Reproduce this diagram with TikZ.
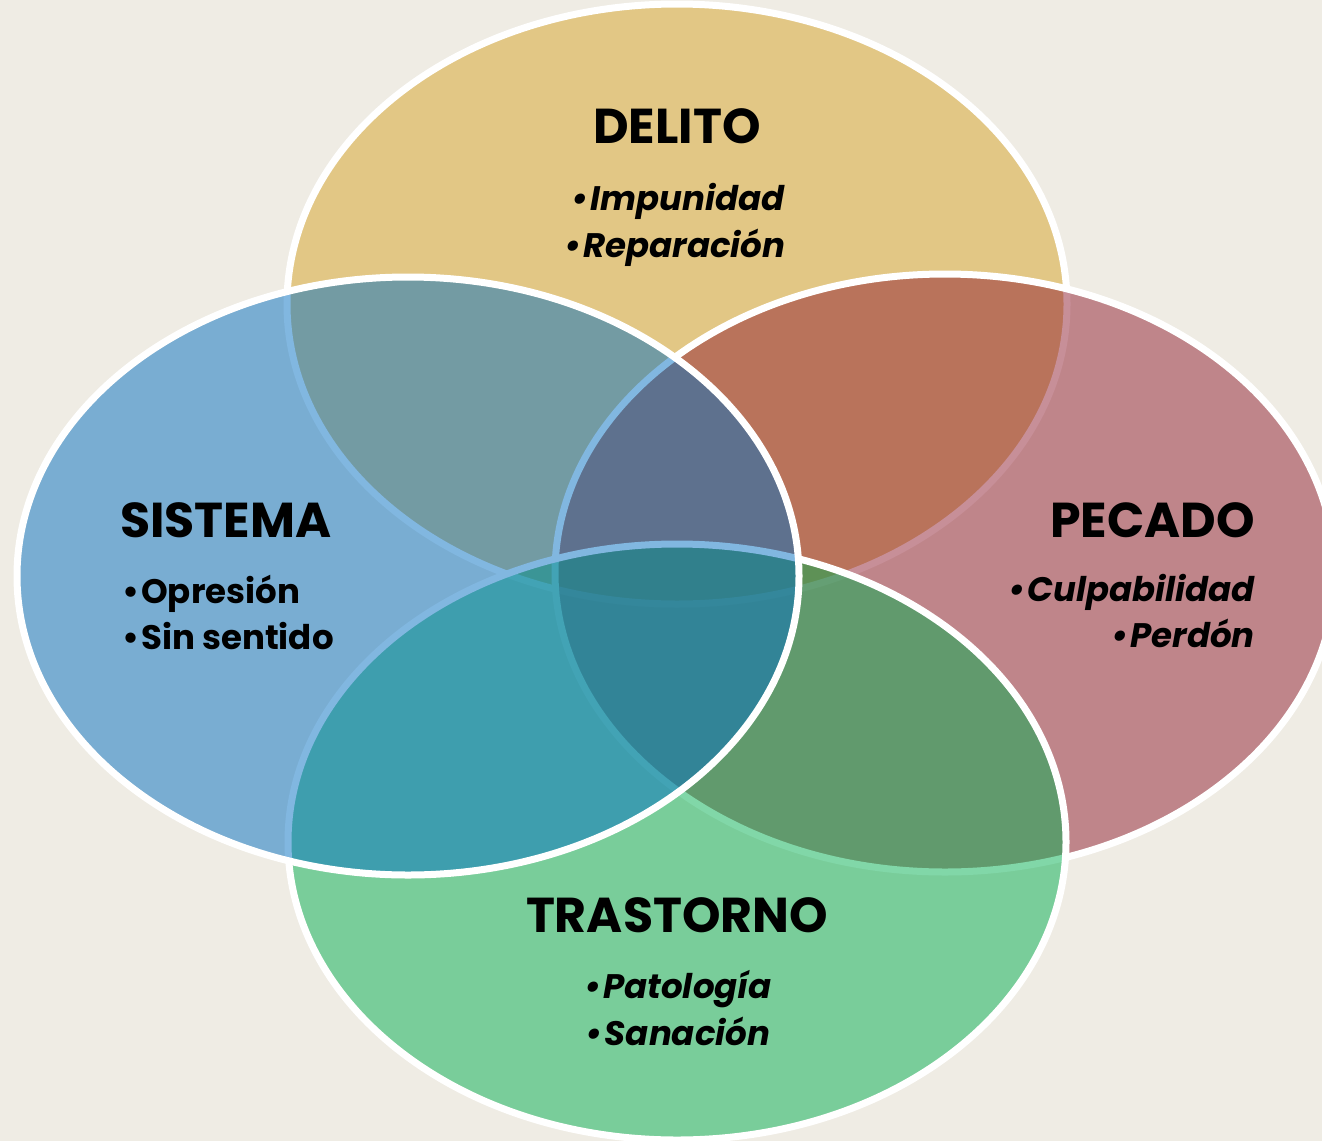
\documentclass[tikz,border=0pt]{standalone}
\usepackage{fontspec}
\setmainfont{Poppins}
\definecolor{bgc}{HTML}{EFECE4}
\definecolor{delc}{HTML}{E2C785}
\definecolor{sisc}{HTML}{0570C2}
\definecolor{pecc}{HTML}{912032}
\definecolor{trac}{HTML}{05B052}
\tikzset{
  blob/.style={draw=white, line width=7pt},
  ttl/.style={font=\fontsize{49}{58}\selectfont\bfseries, inner sep=0pt},
  itm/.style={font=\fontsize{34}{40}\selectfont\bfseries\itshape, inner sep=0pt},
  itmup/.style={font=\fontsize{34}{40}\selectfont\bfseries, inner sep=0pt},
}
\begin{document}
\begin{tikzpicture}[x=1pt,y=-1pt]
\useasboundingbox (0,0) rectangle (1322,1141);
\fill[bgc] (0,0) rectangle (1322,1141);
\clip (0,0) rectangle (1322,1141);
% ellipses, bottom to top
\path[blob, fill=delc] (677,304) ellipse [x radius=390pt, y radius=300pt];
\path[blob, fill=pecc, fill opacity=0.5] (945,573) ellipse [x radius=390pt, y radius=299pt];
\path[blob, fill=trac, fill opacity=0.5] (677,842) ellipse [x radius=389pt, y radius=298pt];
\path[blob, fill=sisc, fill opacity=0.5] (408,576) ellipse [x radius=391pt, y radius=299pt];
% DELITO
\node[ttl, anchor=base] (delT) at (677,143) {DELITO};
\node[itm, anchor=base] (del1) at (678,210) {•\hspace{2pt}Impunidad};
\node[itm, anchor=base] (del2) at (675,257) {•\hspace{2pt}Reparación};
% SISTEMA
\node[ttl, anchor=base west] (sisT) at (120,537) {SISTEMA};
\node[itmup, anchor=base west] (sis1) at (122,603) {•\hspace{2pt}Opresión};
\node[itmup, anchor=base west] (sis2) at (122,649) {•\hspace{2pt}Sin sentido};
% PECADO
\node[ttl, anchor=base east] (pecT) at (1255,537) {PECADO};
\node[itm, anchor=base east] (pec1) at (1255,601) {•\hspace{2pt}Culpabilidad};
\node[itm, anchor=base east] (pec2) at (1255,647) {•\hspace{2pt}Perdón};
% TRASTORNO
\node[ttl, anchor=base] (traT) at (677,932) {TRASTORNO};
\node[itm, anchor=base] (tra1) at (678,998) {•\hspace{2pt}Patología};
\node[itm, anchor=base] (tra2) at (678,1045) {•\hspace{2pt}Sanación};
\end{tikzpicture}
\end{document}
